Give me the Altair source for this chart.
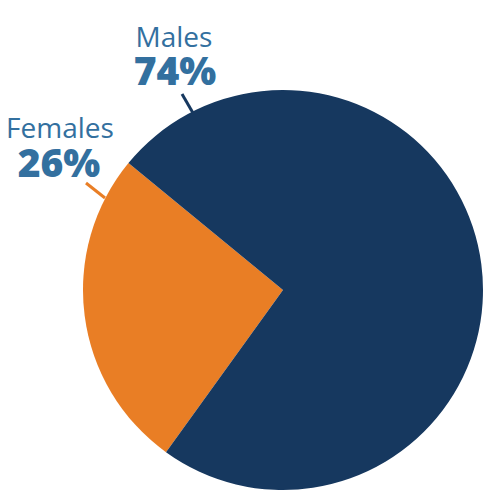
import math
import altair as alt
import pandas as pd

categories = ["Females", "Males"]
values = [26, 74]
colors = ["#e97e25", "#16385f"]

df = pd.DataFrame({"category": categories, "value": values})

start = math.radians(215.8)

base = alt.Chart(df)

pie = base.mark_arc(radius=200, stroke=None).encode(
    theta=alt.Theta("value:Q", stack=True,
                    scale=alt.Scale(type="linear", range=[start, start + 2 * math.pi])),
    color=alt.Color("category:N", scale=alt.Scale(domain=categories, range=colors), legend=None),
    order=alt.Order("category:N", sort="ascending"),
    x=alt.value(275),
    y=alt.value(282),
)

FONT = "Open Sans"
TXT = "#33709f"

def name_text(cat, x, y):
    return base.transform_filter(alt.datum.category == cat).mark_text(
        font=FONT, fontSize=28, color=TXT, align="center", baseline="alphabetic"
    ).encode(text="category:N", x=alt.value(x), y=alt.value(y))

def pct_text(cat, x, y):
    return base.transform_filter(alt.datum.category == cat).transform_calculate(
        lbl="datum.value + '%'"
    ).mark_text(
        font=FONT, fontSize=39, fontWeight=800, color=TXT, align="center", baseline="alphabetic"
    ).encode(text="lbl:N", x=alt.value(x), y=alt.value(y))

males_line = base.transform_filter(alt.datum.category == "Males").mark_rule(
    color="#16385f", strokeWidth=3
).encode(x=alt.value(174), y=alt.value(86), x2=alt.value(185), y2=alt.value(105))

females_line = base.transform_filter(alt.datum.category == "Females").mark_rule(
    color="#e97e25", strokeWidth=3
).encode(x=alt.value(78), y=alt.value(175), x2=alt.value(97), y2=alt.value(190))

chart = alt.layer(
    pie,
    males_line,
    females_line,
    name_text("Males", 166, 39),
    pct_text("Males", 167, 77),
    name_text("Females", 52, 130),
    pct_text("Females", 51, 169),
).properties(
    width=484, height=484, autosize=alt.AutoSizeParams(type="none"), padding=0
).configure_view(stroke=None)

chart.save("out.html", embed_options={"renderer": "svg", "actions": False})
